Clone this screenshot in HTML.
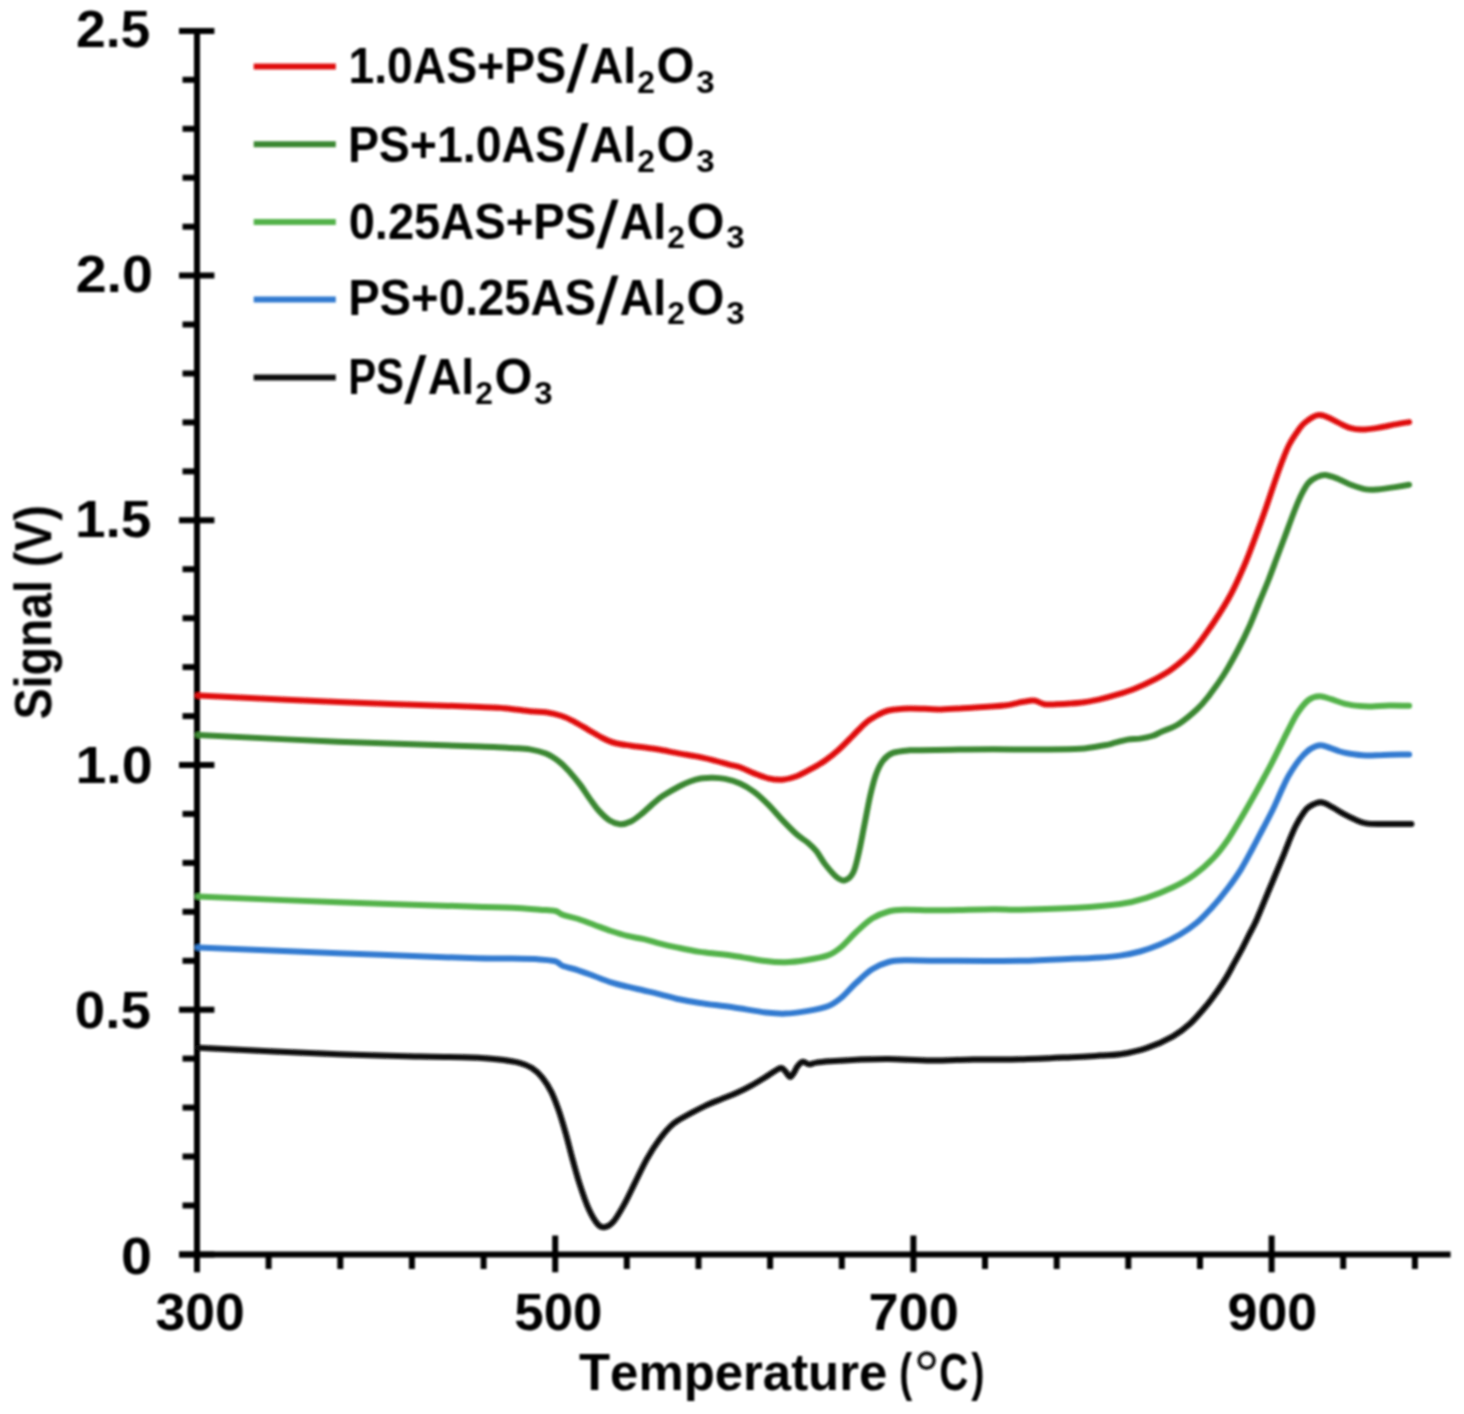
<!DOCTYPE html>
<html><head><meta charset="utf-8"><style>
html,body{margin:0;padding:0;background:#fff;width:1464px;height:1414px;overflow:hidden}
</style></head><body>
<svg width="1464" height="1414" viewBox="0 0 1464 1414" style="position:absolute;left:0;top:0;will-change:transform">
<defs><filter id="soft" x="0" y="0" width="1464" height="1414" filterUnits="userSpaceOnUse"><feGaussianBlur stdDeviation="0.8"/></filter></defs>
<rect width="1464" height="1414" fill="#fff"/>
<g filter="url(#soft)">
<g stroke="#000" stroke-width="6" fill="none">
<line x1="197.0" y1="28.4" x2="197.0" y2="1272"/>
<line x1="179" y1="1254.4" x2="1450.6" y2="1254.4"/>
<line x1="179" y1="1254.4" x2="214.4" y2="1254.4"/>
<line x1="182.5" y1="1205.5" x2="197.0" y2="1205.5"/>
<line x1="182.5" y1="1156.5" x2="197.0" y2="1156.5"/>
<line x1="182.5" y1="1107.6" x2="197.0" y2="1107.6"/>
<line x1="182.5" y1="1058.6" x2="197.0" y2="1058.6"/>
<line x1="179" y1="1009.7" x2="214.4" y2="1009.7"/>
<line x1="182.5" y1="960.8" x2="197.0" y2="960.8"/>
<line x1="182.5" y1="911.8" x2="197.0" y2="911.8"/>
<line x1="182.5" y1="862.9" x2="197.0" y2="862.9"/>
<line x1="182.5" y1="813.9" x2="197.0" y2="813.9"/>
<line x1="179" y1="765.0" x2="214.4" y2="765.0"/>
<line x1="182.5" y1="716.1" x2="197.0" y2="716.1"/>
<line x1="182.5" y1="667.1" x2="197.0" y2="667.1"/>
<line x1="182.5" y1="618.2" x2="197.0" y2="618.2"/>
<line x1="182.5" y1="569.2" x2="197.0" y2="569.2"/>
<line x1="179" y1="520.3" x2="214.4" y2="520.3"/>
<line x1="182.5" y1="471.4" x2="197.0" y2="471.4"/>
<line x1="182.5" y1="422.4" x2="197.0" y2="422.4"/>
<line x1="182.5" y1="373.5" x2="197.0" y2="373.5"/>
<line x1="182.5" y1="324.5" x2="197.0" y2="324.5"/>
<line x1="179" y1="275.6" x2="214.4" y2="275.6"/>
<line x1="182.5" y1="226.7" x2="197.0" y2="226.7"/>
<line x1="182.5" y1="177.7" x2="197.0" y2="177.7"/>
<line x1="182.5" y1="128.8" x2="197.0" y2="128.8"/>
<line x1="182.5" y1="79.8" x2="197.0" y2="79.8"/>
<line x1="179" y1="30.9" x2="214.4" y2="30.9"/>
<line x1="197.0" y1="1235.5" x2="197.0" y2="1272.3"/>
<line x1="268.6" y1="1254.4" x2="268.6" y2="1269"/>
<line x1="340.3" y1="1254.4" x2="340.3" y2="1269"/>
<line x1="411.9" y1="1254.4" x2="411.9" y2="1269"/>
<line x1="483.6" y1="1254.4" x2="483.6" y2="1269"/>
<line x1="555.2" y1="1235.5" x2="555.2" y2="1272.3"/>
<line x1="626.8" y1="1254.4" x2="626.8" y2="1269"/>
<line x1="698.5" y1="1254.4" x2="698.5" y2="1269"/>
<line x1="770.1" y1="1254.4" x2="770.1" y2="1269"/>
<line x1="841.8" y1="1254.4" x2="841.8" y2="1269"/>
<line x1="913.4" y1="1235.5" x2="913.4" y2="1272.3"/>
<line x1="985.0" y1="1254.4" x2="985.0" y2="1269"/>
<line x1="1056.7" y1="1254.4" x2="1056.7" y2="1269"/>
<line x1="1128.3" y1="1254.4" x2="1128.3" y2="1269"/>
<line x1="1200.0" y1="1254.4" x2="1200.0" y2="1269"/>
<line x1="1271.6" y1="1235.5" x2="1271.6" y2="1272.3"/>
<line x1="1343.2" y1="1254.4" x2="1343.2" y2="1269"/>
<line x1="1414.9" y1="1254.4" x2="1414.9" y2="1269"/>
</g>
<text transform="translate(75.95,46.50) scale(1.0486,1)" style="font-family:'Liberation Sans',sans-serif;font-weight:bold;font-kerning:none;font-size:51px" fill="#000" >2.5</text>
<text transform="translate(75.67,292.00) scale(1.0889,1)" style="font-family:'Liberation Sans',sans-serif;font-weight:bold;font-kerning:none;font-size:51px" fill="#000" >2.0</text>
<text transform="translate(74.94,537.10) scale(1.0775,1)" style="font-family:'Liberation Sans',sans-serif;font-weight:bold;font-kerning:none;font-size:51px" fill="#000" >1.5</text>
<text transform="translate(75.40,782.80) scale(1.0901,1)" style="font-family:'Liberation Sans',sans-serif;font-weight:bold;font-kerning:none;font-size:51px" fill="#000" >1.0</text>
<text transform="translate(74.84,1028.10) scale(1.0717,1)" style="font-family:'Liberation Sans',sans-serif;font-weight:bold;font-kerning:none;font-size:51px" fill="#000" >0.5</text>
<text transform="translate(121.10,1273.80) scale(1.0926,1)" style="font-family:'Liberation Sans',sans-serif;font-weight:bold;font-kerning:none;font-size:51px" fill="#000" >0</text>
<text transform="translate(155.57,1330.00) scale(1.0497,1)" style="font-family:'Liberation Sans',sans-serif;font-weight:bold;font-kerning:none;font-size:51px" fill="#000" >300</text>
<text transform="translate(514.27,1330.00) scale(1.0365,1)" style="font-family:'Liberation Sans',sans-serif;font-weight:bold;font-kerning:none;font-size:51px" fill="#000" >500</text>
<text transform="translate(868.47,1330.00) scale(1.0618,1)" style="font-family:'Liberation Sans',sans-serif;font-weight:bold;font-kerning:none;font-size:51px" fill="#000" >700</text>
<text transform="translate(1227.54,1330.00) scale(1.0525,1)" style="font-family:'Liberation Sans',sans-serif;font-weight:bold;font-kerning:none;font-size:51px" fill="#000" >900</text>
<text transform="translate(579.03,1390.00) scale(0.9980,1)" style="font-family:'Liberation Sans',sans-serif;font-weight:bold;font-kerning:none;font-size:51px" fill="#000" >Temperature</text>
<text transform="translate(899.26,1390.00) scale(0.7642,1)" style="font-family:'Liberation Sans',sans-serif;font-weight:bold;font-kerning:none;font-size:51px" fill="#000" >(</text>
<circle cx="926.6" cy="1360.6" r="7.5" fill="none" stroke="#111" stroke-width="3.6"/>
<text transform="translate(939.35,1390.00) scale(0.7887,1)" style="font-family:'Liberation Sans',sans-serif;font-weight:bold;font-kerning:none;font-size:51px" fill="#000" >C</text>
<text transform="translate(971.16,1390.00) scale(0.7781,1)" style="font-family:'Liberation Sans',sans-serif;font-weight:bold;font-kerning:none;font-size:51px" fill="#000" >)</text>
<text transform="translate(51.2,719.34) rotate(-90) scale(0.9106,1)" style="font-family:'Liberation Sans',sans-serif;font-weight:bold;font-kerning:none;font-size:51px" fill="#000">Signal (V)</text>
<line x1="253.7" y1="66.4" x2="335.8" y2="66.4" stroke="#e01010" stroke-width="6"/>
<text transform="translate(348.48,83.00) scale(0.9266,1)" style="font-family:'Liberation Sans',sans-serif;font-weight:bold;font-kerning:none;font-size:50px" fill="#000" >1.0AS+PS</text>
<polygon points="566.2,92.8 572.8,92.8 588.5,43.7 581.9,43.7" fill="#000"/>
<text transform="translate(589.64,83.00) scale(0.9333,1)" style="font-family:'Liberation Sans',sans-serif;font-weight:bold;font-kerning:none;font-size:50px" fill="#000" >Al</text>
<text transform="translate(637.20,92.60) scale(0.9931,1)" style="font-family:'Liberation Sans',sans-serif;font-weight:bold;font-kerning:none;font-size:32px" fill="#000" >2</text>
<text transform="translate(656.50,83.00) scale(0.9758,1)" style="font-family:'Liberation Sans',sans-serif;font-weight:bold;font-kerning:none;font-size:50px" fill="#000" >O</text>
<text transform="translate(696.14,92.60) scale(1.0310,1)" style="font-family:'Liberation Sans',sans-serif;font-weight:bold;font-kerning:none;font-size:32px" fill="#000" >3</text>
<line x1="253.7" y1="144.3" x2="335.8" y2="144.3" stroke="#3a8730" stroke-width="6"/>
<text transform="translate(347.89,162.20) scale(0.9291,1)" style="font-family:'Liberation Sans',sans-serif;font-weight:bold;font-kerning:none;font-size:50px" fill="#000" >PS+1.0AS</text>
<polygon points="566.2,172.0 572.8,172.0 588.5,122.9 581.9,122.9" fill="#000"/>
<text transform="translate(589.64,162.20) scale(0.9333,1)" style="font-family:'Liberation Sans',sans-serif;font-weight:bold;font-kerning:none;font-size:50px" fill="#000" >Al</text>
<text transform="translate(637.20,171.80) scale(0.9931,1)" style="font-family:'Liberation Sans',sans-serif;font-weight:bold;font-kerning:none;font-size:32px" fill="#000" >2</text>
<text transform="translate(656.50,162.20) scale(0.9758,1)" style="font-family:'Liberation Sans',sans-serif;font-weight:bold;font-kerning:none;font-size:50px" fill="#000" >O</text>
<text transform="translate(696.14,171.80) scale(1.0310,1)" style="font-family:'Liberation Sans',sans-serif;font-weight:bold;font-kerning:none;font-size:32px" fill="#000" >3</text>
<line x1="253.7" y1="221.9" x2="335.8" y2="221.9" stroke="#52b24a" stroke-width="6"/>
<text transform="translate(348.64,238.70) scale(0.9423,1)" style="font-family:'Liberation Sans',sans-serif;font-weight:bold;font-kerning:none;font-size:50px" fill="#000" >0.25AS+PS</text>
<polygon points="596.2,248.5 602.8,248.5 618.5,199.4 611.9,199.4" fill="#000"/>
<text transform="translate(619.64,238.70) scale(0.9333,1)" style="font-family:'Liberation Sans',sans-serif;font-weight:bold;font-kerning:none;font-size:50px" fill="#000" >Al</text>
<text transform="translate(667.20,248.30) scale(0.9931,1)" style="font-family:'Liberation Sans',sans-serif;font-weight:bold;font-kerning:none;font-size:32px" fill="#000" >2</text>
<text transform="translate(686.50,238.70) scale(0.9758,1)" style="font-family:'Liberation Sans',sans-serif;font-weight:bold;font-kerning:none;font-size:50px" fill="#000" >O</text>
<text transform="translate(726.14,248.30) scale(1.0310,1)" style="font-family:'Liberation Sans',sans-serif;font-weight:bold;font-kerning:none;font-size:32px" fill="#000" >3</text>
<line x1="253.7" y1="299.6" x2="335.8" y2="299.6" stroke="#327ad0" stroke-width="6"/>
<text transform="translate(348.14,314.80) scale(0.9442,1)" style="font-family:'Liberation Sans',sans-serif;font-weight:bold;font-kerning:none;font-size:50px" fill="#000" >PS+0.25AS</text>
<polygon points="596.2,324.6 602.8,324.6 618.5,275.5 611.9,275.5" fill="#000"/>
<text transform="translate(619.64,314.80) scale(0.9333,1)" style="font-family:'Liberation Sans',sans-serif;font-weight:bold;font-kerning:none;font-size:50px" fill="#000" >Al</text>
<text transform="translate(667.20,324.40) scale(0.9931,1)" style="font-family:'Liberation Sans',sans-serif;font-weight:bold;font-kerning:none;font-size:32px" fill="#000" >2</text>
<text transform="translate(686.50,314.80) scale(0.9758,1)" style="font-family:'Liberation Sans',sans-serif;font-weight:bold;font-kerning:none;font-size:50px" fill="#000" >O</text>
<text transform="translate(726.14,324.40) scale(1.0310,1)" style="font-family:'Liberation Sans',sans-serif;font-weight:bold;font-kerning:none;font-size:32px" fill="#000" >3</text>
<line x1="253.7" y1="377.4" x2="335.8" y2="377.4" stroke="#111111" stroke-width="6"/>
<text transform="translate(348.21,394.30) scale(0.8355,1)" style="font-family:'Liberation Sans',sans-serif;font-weight:bold;font-kerning:none;font-size:50px" fill="#000" >PS</text>
<polygon points="404.2,404.1 410.8,404.1 426.5,355.0 419.9,355.0" fill="#000"/>
<text transform="translate(427.64,394.30) scale(0.9333,1)" style="font-family:'Liberation Sans',sans-serif;font-weight:bold;font-kerning:none;font-size:50px" fill="#000" >Al</text>
<text transform="translate(475.20,403.90) scale(0.9931,1)" style="font-family:'Liberation Sans',sans-serif;font-weight:bold;font-kerning:none;font-size:32px" fill="#000" >2</text>
<text transform="translate(494.50,394.30) scale(0.9758,1)" style="font-family:'Liberation Sans',sans-serif;font-weight:bold;font-kerning:none;font-size:50px" fill="#000" >O</text>
<text transform="translate(534.14,403.90) scale(1.0310,1)" style="font-family:'Liberation Sans',sans-serif;font-weight:bold;font-kerning:none;font-size:32px" fill="#000" >3</text>
<path d="M198.0,695.5 C221.4,696.6 291.5,700.1 338.5,702.0 C385.5,703.9 452.2,705.9 480.0,706.9 C507.8,707.9 496.7,707.6 505.0,708.3 C513.3,709.0 523.2,710.5 530.0,711.2 C536.8,711.9 540.6,711.5 545.9,712.3 C551.2,713.1 557.0,714.4 561.8,716.0 C566.6,717.6 570.2,719.5 574.6,721.8 C579.0,724.1 583.7,727.1 588.3,729.8 C592.9,732.4 597.7,735.5 602.1,737.7 C606.5,739.9 610.1,741.7 614.9,743.0 C619.7,744.3 625.5,744.9 630.8,745.7 C636.1,746.5 641.4,747.0 646.7,747.8 C652.0,748.6 657.1,749.3 662.6,750.3 C668.1,751.3 674.4,752.6 680.0,753.6 C685.6,754.6 690.9,755.3 696.4,756.4 C701.9,757.5 707.3,758.7 712.8,760.1 C718.3,761.5 724.7,763.4 729.2,764.6 C733.7,765.8 735.9,765.8 740.0,767.3 C744.1,768.8 749.4,771.5 754.1,773.4 C758.8,775.2 763.6,777.3 768.3,778.4 C773.0,779.5 777.7,780.1 782.4,779.8 C787.1,779.4 791.9,778.1 796.6,776.3 C801.3,774.5 806.0,771.8 810.7,769.2 C815.4,766.6 820.2,764.0 824.9,760.7 C829.6,757.4 834.3,753.6 839.0,749.4 C843.7,745.2 849.0,739.5 853.2,735.3 C857.5,731.0 861.0,727.0 864.5,723.9 C868.0,720.8 870.4,719.1 874.4,716.9 C878.4,714.7 882.6,711.9 888.5,710.5 C894.4,709.1 901.1,708.6 909.7,708.4 C918.4,708.2 930.0,709.5 940.4,709.4 C950.8,709.3 961.6,708.3 972.2,707.7 C982.8,707.1 996.2,706.5 1004.0,705.6 C1011.8,704.8 1014.3,703.5 1018.9,702.6 C1023.5,701.8 1028.8,700.8 1031.6,700.5 C1034.4,700.2 1033.7,700.3 1035.8,700.9 C1037.9,701.5 1041.2,703.6 1044.3,704.2 C1047.3,704.8 1048.1,704.6 1054.1,704.4 C1060.0,704.1 1072.6,703.5 1080.0,702.7 C1087.4,701.9 1092.2,700.9 1098.4,699.6 C1104.6,698.3 1110.8,696.6 1116.9,694.7 C1123.1,692.9 1129.2,691.0 1135.3,688.5 C1141.4,686.0 1147.6,683.2 1153.8,679.9 C1160.0,676.6 1165.6,673.9 1172.2,668.9 C1178.8,663.9 1186.5,657.8 1193.5,650.0 C1200.5,642.2 1207.8,631.3 1214.0,622.0 C1220.2,612.7 1225.9,603.5 1231.0,594.0 C1236.1,584.5 1240.5,574.3 1244.5,565.0 C1248.5,555.7 1251.7,546.8 1255.0,538.0 C1258.3,529.2 1261.5,520.5 1264.5,512.0 C1267.5,503.5 1270.2,495.2 1273.0,487.0 C1275.8,478.8 1278.8,470.0 1281.5,463.0 C1284.2,456.0 1286.2,450.5 1289.0,445.0 C1291.8,439.5 1295.8,433.8 1298.5,430.0 C1301.2,426.2 1301.8,425.0 1305.0,422.5 C1308.2,420.0 1313.9,416.1 1317.5,415.2 C1321.1,414.2 1323.1,415.6 1326.6,416.8 C1330.1,418.0 1334.4,420.8 1338.3,422.6 C1342.2,424.5 1346.0,426.7 1349.9,427.9 C1353.8,429.1 1356.9,429.6 1361.5,429.6 C1366.1,429.6 1372.1,428.8 1377.7,427.9 C1383.3,427.0 1389.9,425.4 1395.1,424.4 C1400.3,423.4 1406.8,422.5 1409.1,422.1" fill="none" stroke="#e01010" stroke-width="6" stroke-linejoin="round" stroke-linecap="round"/>
<path d="M198.0,734.9 C221.3,736.0 291.0,739.8 338.0,741.7 C385.0,743.6 451.0,745.5 480.0,746.5 C509.0,747.5 503.5,747.5 511.8,748.0 C520.1,748.5 524.3,748.5 530.0,749.4 C535.7,750.3 540.9,751.5 545.9,753.6 C550.9,755.7 555.6,758.9 559.7,762.1 C563.8,765.3 566.9,769.0 570.3,772.7 C573.7,776.4 576.7,780.1 579.9,784.4 C583.1,788.6 586.2,793.8 589.4,798.2 C592.6,802.6 595.6,807.2 599.0,810.9 C602.4,814.6 606.1,818.3 609.6,820.5 C613.1,822.7 616.7,824.0 620.2,824.2 C623.7,824.4 627.3,823.2 630.8,821.5 C634.3,819.8 637.9,816.9 641.4,814.1 C644.9,811.3 648.5,807.6 652.0,804.6 C655.5,801.6 657.9,799.2 662.6,796.1 C667.3,793.0 675.4,788.4 680.0,786.0 C684.6,783.6 686.6,782.8 690.0,781.5 C693.4,780.2 696.7,779.1 700.5,778.5 C704.3,777.9 708.7,777.6 712.8,777.7 C716.9,777.8 720.6,778.0 725.1,778.9 C729.6,779.8 735.2,781.2 740.0,783.4 C744.8,785.5 749.4,788.3 754.1,791.8 C758.8,795.3 763.6,799.9 768.3,804.6 C773.0,809.3 777.7,815.2 782.4,820.1 C787.1,825.0 792.4,830.5 796.6,834.3 C800.9,838.1 804.6,840.0 807.9,842.8 C811.2,845.6 813.6,847.7 816.4,851.2 C819.2,854.7 821.6,859.8 824.9,864.0 C828.2,868.2 832.9,874.0 836.2,876.7 C839.5,879.4 841.9,881.1 844.7,880.4 C847.5,879.7 850.9,877.1 853.2,872.5 C855.6,867.9 856.9,860.7 858.8,852.7 C860.7,844.7 862.6,833.8 864.5,824.4 C866.4,815.0 868.2,804.4 870.1,796.1 C872.0,787.9 873.7,780.8 875.8,774.9 C877.9,769.0 880.1,764.4 882.9,760.7 C885.7,757.0 888.3,754.6 892.8,752.9 C897.3,751.2 905.2,750.7 909.7,750.3 C914.2,749.9 913.1,750.4 920.0,750.3 C926.9,750.2 938.8,749.9 951.0,749.7 C963.2,749.5 978.6,749.3 993.4,749.3 C1008.2,749.3 1025.6,749.6 1040.0,749.5 C1054.4,749.4 1069.2,749.5 1080.0,748.8 C1090.8,748.1 1098.7,746.2 1104.6,745.2 C1110.5,744.2 1111.5,743.6 1115.3,742.7 C1119.1,741.8 1123.4,740.3 1127.5,739.6 C1131.6,738.9 1135.9,739.2 1140.0,738.6 C1144.1,738.0 1148.4,737.2 1152.1,736.0 C1155.8,734.8 1157.6,733.5 1162.0,731.5 C1166.4,729.5 1172.6,727.9 1178.4,724.2 C1184.2,720.5 1191.9,714.0 1196.8,709.5 C1201.7,705.0 1203.5,702.8 1208.0,697.0 C1212.5,691.2 1218.6,682.8 1223.6,675.0 C1228.6,667.2 1233.4,658.3 1237.8,650.0 C1242.2,641.7 1246.3,633.3 1250.0,625.0 C1253.7,616.7 1257.1,607.5 1260.2,600.0 C1263.3,592.5 1265.9,586.7 1268.5,580.0 C1271.1,573.3 1273.4,567.0 1276.0,560.0 C1278.6,553.0 1281.3,546.0 1284.3,538.0 C1287.3,530.0 1291.2,519.2 1294.0,512.0 C1296.8,504.8 1298.8,499.8 1301.2,495.0 C1303.6,490.2 1305.9,485.9 1308.4,483.0 C1310.9,480.1 1313.2,478.8 1316.0,477.5 C1318.8,476.2 1321.3,474.8 1325.0,475.0 C1328.7,475.2 1333.8,477.3 1338.3,479.0 C1342.8,480.7 1347.6,483.6 1352.2,485.3 C1356.8,487.0 1361.8,488.7 1366.1,489.4 C1370.3,490.1 1372.9,489.8 1377.7,489.4 C1382.5,489.0 1389.9,487.9 1395.1,487.1 C1400.3,486.3 1406.8,485.2 1409.1,484.8" fill="none" stroke="#3a8730" stroke-width="6" stroke-linejoin="round" stroke-linecap="round"/>
<path d="M198.0,896.5 C221.4,897.5 293.2,900.6 338.5,902.3 C383.8,904.0 441.0,905.6 470.0,906.5 C499.0,907.4 500.7,907.3 512.4,907.8 C524.1,908.3 533.0,909.2 540.0,909.7 C547.0,910.2 551.1,910.3 554.2,910.8 C557.3,911.2 557.1,911.7 558.6,912.4 C560.1,913.1 559.7,913.8 563.0,914.9 C566.3,916.0 573.0,917.3 578.3,919.0 C583.6,920.7 589.1,923.0 594.6,925.0 C600.1,927.0 605.5,929.2 611.0,931.0 C616.5,932.8 621.9,934.5 627.4,935.9 C632.9,937.3 638.3,937.9 643.8,939.2 C649.3,940.5 654.7,942.2 660.2,943.6 C665.7,945.0 670.0,946.0 676.6,947.4 C683.2,948.8 690.6,950.5 700.0,951.9 C709.4,953.3 721.9,954.2 732.8,955.7 C743.7,957.2 756.9,960.0 765.6,961.1 C774.3,962.2 778.4,962.5 785.2,962.3 C792.0,962.1 799.5,961.1 806.6,960.0 C813.7,958.9 822.2,957.5 827.9,955.4 C833.6,953.3 836.4,951.0 841.0,947.2 C845.6,943.4 850.5,937.3 855.7,932.5 C860.9,927.7 866.6,922.0 872.1,918.5 C877.6,915.0 883.0,913.0 888.5,911.5 C894.0,910.0 896.3,910.0 904.9,909.8 C913.5,909.6 925.2,910.4 940.0,910.3 C954.8,910.2 980.1,909.4 993.4,909.3 C1006.7,909.2 1006.0,910.0 1020.0,909.7 C1034.0,909.4 1060.7,908.7 1077.4,907.7 C1094.1,906.8 1108.5,905.6 1120.0,904.0 C1131.5,902.4 1137.7,900.6 1146.5,897.8 C1155.3,895.0 1165.0,891.0 1173.0,887.2 C1181.0,883.4 1187.5,879.8 1194.3,874.8 C1201.1,869.8 1208.3,863.3 1213.9,857.5 C1219.5,851.7 1223.4,846.2 1227.7,840.0 C1232.0,833.8 1236.1,826.5 1240.0,820.0 C1243.9,813.5 1247.5,807.2 1251.0,801.0 C1254.5,794.8 1257.6,789.2 1261.0,783.0 C1264.4,776.8 1267.7,770.9 1271.3,763.9 C1274.9,756.9 1279.8,746.9 1282.6,741.3 C1285.4,735.6 1285.8,734.7 1288.3,730.0 C1290.8,725.3 1294.1,718.0 1297.5,713.0 C1300.9,708.0 1304.8,702.8 1308.5,700.0 C1312.2,697.2 1315.9,696.4 1319.7,696.3 C1323.5,696.2 1327.0,698.0 1331.3,699.2 C1335.5,700.5 1340.4,702.6 1345.2,703.8 C1350.0,704.9 1355.8,705.6 1360.3,706.1 C1364.8,706.6 1367.1,706.6 1371.9,706.5 C1376.7,706.4 1383.1,705.6 1389.3,705.5 C1395.5,705.4 1405.8,705.8 1409.1,705.8" fill="none" stroke="#52b24a" stroke-width="6" stroke-linejoin="round" stroke-linecap="round"/>
<path d="M198.0,947.4 C221.4,948.4 293.2,951.4 338.5,953.2 C383.8,955.0 441.0,957.2 470.0,958.1 C499.0,959.0 500.7,958.4 512.4,958.6 C524.1,958.8 533.0,959.0 540.0,959.4 C547.0,959.8 551.1,960.4 554.2,961.0 C557.3,961.6 557.1,962.2 558.6,963.0 C560.1,963.8 559.7,964.8 563.0,966.0 C566.3,967.2 573.0,968.6 578.3,970.3 C583.6,972.0 589.1,974.3 594.6,976.3 C600.1,978.3 605.5,980.6 611.0,982.3 C616.5,984.0 621.9,985.3 627.4,986.7 C632.9,988.1 638.3,989.2 643.8,990.5 C649.3,991.8 654.7,993.0 660.2,994.4 C665.7,995.8 670.0,997.3 676.6,998.7 C683.2,1000.1 690.6,1001.6 700.0,1003.0 C709.4,1004.4 721.9,1005.7 732.8,1007.3 C743.7,1008.9 756.9,1011.5 765.6,1012.5 C774.3,1013.5 778.4,1013.8 785.2,1013.6 C792.0,1013.4 799.5,1012.3 806.6,1011.1 C813.7,1009.9 822.2,1008.4 827.9,1006.2 C833.6,1004.0 836.4,1001.8 841.0,998.0 C845.6,994.2 850.5,988.1 855.7,983.3 C860.9,978.5 866.6,972.8 872.1,969.3 C877.6,965.8 883.0,963.5 888.5,962.0 C894.0,960.5 896.3,960.5 904.9,960.3 C913.5,960.1 920.8,960.6 940.0,960.7 C959.2,960.8 997.1,961.2 1020.0,960.8 C1042.9,960.4 1064.1,959.0 1077.4,958.5 C1090.7,958.0 1092.9,958.1 1100.0,957.6 C1107.1,957.1 1113.3,956.6 1120.0,955.6 C1126.7,954.6 1133.3,953.4 1140.0,951.5 C1146.7,949.6 1153.3,947.3 1160.0,944.5 C1166.7,941.7 1173.8,938.2 1180.0,934.5 C1186.2,930.8 1191.7,927.0 1197.0,922.5 C1202.3,918.0 1206.8,913.2 1212.0,907.5 C1217.2,901.8 1223.2,894.4 1228.0,888.0 C1232.8,881.6 1237.0,875.7 1241.0,869.3 C1245.0,862.9 1248.4,856.1 1252.0,849.5 C1255.6,842.9 1259.0,836.2 1262.5,829.5 C1266.0,822.8 1270.4,814.5 1273.0,809.2 C1275.6,803.9 1276.4,801.7 1278.1,797.9 C1279.8,794.1 1281.4,790.4 1283.2,786.6 C1285.0,782.8 1286.7,779.1 1288.9,775.3 C1291.1,771.5 1293.9,767.2 1296.2,763.9 C1298.5,760.6 1300.5,758.0 1303.0,755.5 C1305.5,753.0 1308.0,750.4 1310.9,748.7 C1313.8,747.0 1317.2,745.4 1320.5,745.3 C1323.8,745.2 1327.5,747.1 1330.7,748.1 C1334.0,749.1 1337.0,750.6 1340.0,751.5 C1343.0,752.4 1344.4,752.8 1348.7,753.5 C1353.0,754.2 1360.3,755.3 1366.1,755.5 C1371.9,755.7 1376.3,755.1 1383.5,754.9 C1390.7,754.7 1404.8,754.6 1409.1,754.5" fill="none" stroke="#327ad0" stroke-width="6" stroke-linejoin="round" stroke-linecap="round"/>
<path d="M198.0,1047.8 C221.4,1048.9 301.5,1052.8 338.5,1054.2 C375.5,1055.7 398.1,1056.0 420.0,1056.5 C441.9,1057.0 457.2,1057.0 470.0,1057.5 C482.8,1058.0 488.2,1058.3 496.5,1059.2 C504.8,1060.1 513.6,1061.3 519.5,1062.8 C525.4,1064.3 528.1,1065.6 531.9,1068.1 C535.7,1070.6 539.3,1073.8 542.5,1077.8 C545.7,1081.8 548.6,1086.6 551.3,1091.9 C553.9,1097.2 556.0,1102.8 558.4,1109.6 C560.8,1116.4 563.1,1124.3 565.5,1132.6 C567.9,1140.8 570.1,1150.5 572.5,1159.1 C574.9,1167.6 576.9,1175.7 579.6,1183.9 C582.3,1192.2 585.5,1202.0 588.5,1208.6 C591.5,1215.2 594.6,1220.6 597.3,1223.7 C599.9,1226.8 601.8,1227.5 604.4,1227.2 C607.0,1226.9 610.0,1225.6 613.2,1221.9 C616.4,1218.2 620.3,1211.4 623.8,1205.1 C627.3,1198.8 630.6,1191.6 634.4,1183.9 C638.2,1176.2 642.7,1166.5 646.8,1159.1 C650.9,1151.7 654.8,1145.6 659.2,1139.7 C663.6,1133.8 668.0,1128.2 673.3,1123.8 C678.6,1119.4 685.1,1116.5 691.0,1113.2 C696.9,1110.0 703.7,1106.6 708.7,1104.3 C713.7,1102.0 716.4,1101.1 721.0,1099.2 C725.6,1097.3 731.3,1095.3 736.4,1093.0 C741.5,1090.7 746.6,1088.1 751.7,1085.3 C756.8,1082.5 762.7,1078.8 767.1,1076.1 C771.5,1073.4 775.8,1070.2 778.4,1068.9 C781.0,1067.6 781.1,1067.7 782.5,1068.4 C783.9,1069.1 785.3,1071.5 786.6,1073.0 C787.9,1074.5 788.9,1077.1 790.1,1077.1 C791.3,1077.1 792.4,1074.9 793.7,1073.0 C795.0,1071.1 796.2,1067.8 797.8,1065.9 C799.3,1064.0 801.1,1062.1 803.0,1061.8 C804.9,1061.5 806.9,1064.2 809.1,1064.3 C811.3,1064.4 812.8,1063.1 816.3,1062.6 C819.8,1062.1 823.3,1061.8 830.0,1061.3 C836.7,1060.8 847.0,1060.1 856.7,1059.7 C866.5,1059.3 876.1,1058.8 888.5,1058.9 C900.9,1059.0 916.9,1060.4 931.0,1060.5 C945.1,1060.6 958.6,1059.7 973.4,1059.5 C988.2,1059.3 1003.6,1059.7 1020.0,1059.3 C1036.4,1058.9 1058.3,1057.8 1071.6,1057.2 C1084.9,1056.6 1091.9,1056.1 1100.0,1055.6 C1108.1,1055.1 1112.2,1055.5 1120.0,1054.3 C1127.8,1053.0 1137.7,1051.1 1146.5,1048.1 C1155.3,1045.1 1165.8,1040.4 1173.0,1036.3 C1180.2,1032.2 1184.3,1028.9 1190.0,1023.7 C1195.7,1018.5 1202.4,1010.4 1207.0,1004.9 C1211.6,999.4 1214.3,995.4 1217.6,990.7 C1220.9,986.0 1224.0,981.3 1226.8,976.6 C1229.6,971.9 1232.0,967.1 1234.6,962.4 C1237.2,957.7 1239.8,953.0 1242.3,948.3 C1244.8,943.6 1247.0,938.8 1249.4,934.1 C1251.8,929.4 1253.2,927.4 1256.5,920.0 C1259.8,912.6 1264.8,900.1 1269.0,890.0 C1273.2,879.9 1279.0,866.2 1281.9,859.2 C1284.8,852.2 1284.9,851.7 1286.4,847.9 C1287.9,844.1 1289.3,840.4 1290.9,836.6 C1292.5,832.8 1294.0,829.1 1296.0,825.3 C1298.0,821.5 1300.7,816.9 1302.8,813.9 C1304.9,810.9 1305.5,809.2 1308.5,807.2 C1311.5,805.2 1317.0,802.2 1320.9,802.2 C1324.9,802.2 1328.4,805.2 1332.2,807.2 C1336.0,809.2 1339.9,811.9 1343.6,813.9 C1347.3,815.9 1350.8,817.7 1354.5,819.3 C1358.2,820.9 1361.3,822.6 1366.1,823.4 C1370.9,824.2 1376.0,823.9 1383.5,824.0 C1391.0,824.1 1406.8,824.0 1411.4,824.0" fill="none" stroke="#0a0a0a" stroke-width="6" stroke-linejoin="round" stroke-linecap="round"/>
</g>
</svg>
</body></html>
